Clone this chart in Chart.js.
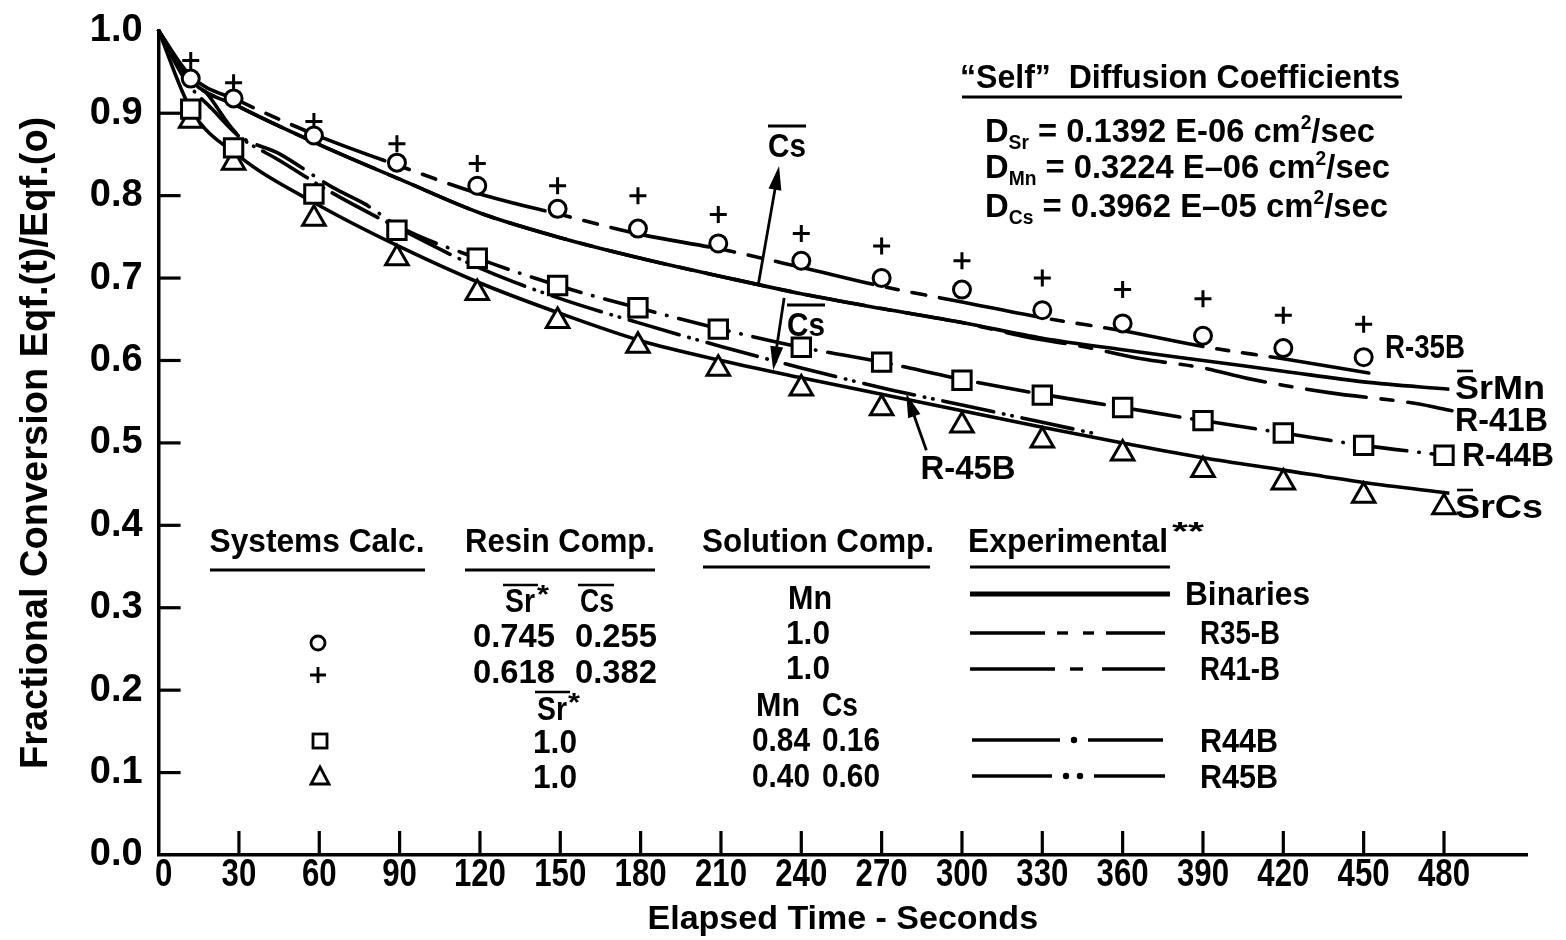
<!DOCTYPE html>
<html>
<head>
<meta charset="utf-8">
<script src="https://cdn.jsdelivr.net/npm/chart.js@4.4.0/dist/chart.umd.min.js"></script>
<style>
  html, body { margin: 0; padding: 0; background: #fff; }
  #wrap { width: 1566px; height: 940px; }
</style>
</head>
<body>
<div id="wrap"><canvas id="chart" width="1566" height="940"></canvas></div>
<script>
// axis ticks
const timeTicks = [0, 30, 60, 90, 120, 150, 180, 210, 240, 270, 300, 330, 360, 390, 420, 450, 480];
const fracTicks = [0, 0.1, 0.2, 0.3, 0.4, 0.5, 0.6, 0.7, 0.8, 0.9, 1.0];

// calculated systems (symbols)
const calcTime = [12, 28, 58, 89, 119, 149, 179, 209, 240, 270, 300, 330, 360, 390, 420, 450, 480];
const circleVals = [0.942, 0.918, 0.873, 0.840, 0.812, 0.784, 0.760, 0.742, 0.721, 0.700, 0.686, 0.661, 0.645, 0.630, 0.615, 0.604];
const plusVals = [0.964, 0.937, 0.890, 0.863, 0.839, 0.812, 0.800, 0.777, 0.754, 0.739, 0.721, 0.700, 0.686, 0.675, 0.655, 0.644];
const squareVals = [0.905, 0.858, 0.802, 0.758, 0.724, 0.691, 0.664, 0.638, 0.616, 0.598, 0.576, 0.558, 0.543, 0.527, 0.512, 0.497, 0.485];
const triangleVals = [0.891, 0.840, 0.772, 0.724, 0.682, 0.648, 0.618, 0.590, 0.566, 0.542, 0.521, 0.503, 0.487, 0.467, 0.452, 0.436, 0.422];

// experimental curves
const r35Time = [0, 12, 30, 60, 90, 120, 150, 180, 210, 240, 270, 300, 330, 360, 390, 420, 457];
const r35Vals = [1.0, 0.945, 0.915, 0.872, 0.836, 0.802, 0.777, 0.753, 0.735, 0.713, 0.690, 0.671, 0.652, 0.636, 0.617, 0.602, 0.582];

const srMnTime = [0, 12, 30, 60, 90, 120, 150, 180, 210, 240, 270, 300, 330, 360, 390, 420, 450, 482];
const srMnVals = [1.0, 0.940, 0.908, 0.862, 0.820, 0.779, 0.749, 0.724, 0.702, 0.681, 0.663, 0.646, 0.627, 0.613, 0.600, 0.587, 0.574, 0.565];

const r41Time = [0, 12, 30, 60, 90, 120, 150, 180, 210, 240, 270, 300, 325, 345, 367, 390, 407, 437, 469, 483];
const r41Vals = [1.0, 0.940, 0.908, 0.862, 0.820, 0.779, 0.749, 0.724, 0.702, 0.681, 0.663, 0.646, 0.628, 0.617, 0.602, 0.591, 0.578, 0.561, 0.548, 0.539];

const r44Time = [0, 10, 18, 29, 45, 65, 77, 90, 120, 150, 180, 210, 240, 270, 300, 330, 360, 390, 420, 450, 480];
const r44Vals = [1.0, 0.950, 0.924, 0.876, 0.851, 0.810, 0.790, 0.762, 0.723, 0.690, 0.663, 0.638, 0.616, 0.598, 0.577, 0.559, 0.543, 0.527, 0.512, 0.497, 0.485];

const r45Time = [0, 10, 20, 30, 45, 65, 90, 120, 150, 180, 210, 240, 270, 300, 330, 350];
const r45Vals = [1.0, 0.940, 0.905, 0.872, 0.843, 0.803, 0.760, 0.712, 0.675, 0.645, 0.617, 0.591, 0.567, 0.546, 0.525, 0.511];

const srCsTime = [0, 12, 30, 60, 90, 120, 150, 180, 210, 240, 270, 300, 330, 360, 390, 420, 450, 482];
const srCsVals = [1.0, 0.905, 0.848, 0.788, 0.738, 0.694, 0.657, 0.624, 0.600, 0.579, 0.559, 0.539, 0.519, 0.500, 0.482, 0.467, 0.452, 0.439];

const FONT = '"Liberation Sans", Arial, sans-serif';
const pts = (xs, ys) => ys.map((v, i) => ({ x: xs[i], y: v }));

function symbolSet(vals, style, radius) {
  return {
    data: pts(calcTime, vals), showLine: false, pointStyle: style, pointRadius: radius,
    pointBorderWidth: 3, pointBorderColor: '#000', pointBackgroundColor: '#fff', clip: false
  };
}
function curve(xs, ys, dash) {
  return {
    data: pts(xs, ys), showLine: true, pointRadius: 0, borderColor: '#000', borderWidth: 3.6,
    borderDash: dash, borderCapStyle: dash.length ? 'round' : 'butt', cubicInterpolationMode: 'monotone',
    fill: false, clip: false
  };
}

function font(size) { return 'bold ' + size + 'px ' + FONT; }
// draw a run of text pieces [text, size, dy] from x on baseline y;
// width > 0 squeezes the run to that width, width < 0 scales it by -width
function rich(ctx, parts, x, y, width, align) {
  ctx.save();
  let total = 0;
  parts.forEach(p => { ctx.font = font(p[1]); total += ctx.measureText(p[0]).width; });
  const k = width > 0 ? width / total : (width < 0 ? -width : 1);
  let start = x;
  if (align === 'center') start = x - total * k / 2;
  if (align === 'right') start = x - total * k;
  ctx.translate(start, y);
  ctx.scale(k, 1);
  ctx.textAlign = 'left';
  ctx.textBaseline = 'alphabetic';
  ctx.fillStyle = '#000';
  let cx = 0;
  parts.forEach(p => { ctx.font = font(p[1]); ctx.fillText(p[0], cx, p[2] || 0); cx += ctx.measureText(p[0]).width; });
  ctx.restore();
}
function txt(ctx, s, x, y, size, width, align) { rich(ctx, [[s, size]], x, y, width, align || 'left'); }
function hline(ctx, x1, x2, y, w) {
  ctx.save(); ctx.strokeStyle = '#000'; ctx.lineWidth = w || 2.5;
  ctx.beginPath(); ctx.moveTo(x1, y); ctx.lineTo(x2, y); ctx.stroke(); ctx.restore();
}
function arrow(ctx, x1, y1, x2, y2) {
  const a = Math.atan2(y2 - y1, x2 - x1), L = 24, W = 6.5;
  ctx.save(); ctx.strokeStyle = '#000'; ctx.fillStyle = '#000'; ctx.lineWidth = 2.8;
  ctx.beginPath(); ctx.moveTo(x1, y1); ctx.lineTo(x2 - Math.cos(a) * L * 0.8, y2 - Math.sin(a) * L * 0.8); ctx.stroke();
  ctx.beginPath(); ctx.moveTo(x2, y2);
  ctx.lineTo(x2 - Math.cos(a) * L - Math.sin(a) * W, y2 - Math.sin(a) * L + Math.cos(a) * W);
  ctx.lineTo(x2 - Math.cos(a) * L + Math.sin(a) * W, y2 - Math.sin(a) * L - Math.cos(a) * W);
  ctx.closePath(); ctx.fill(); ctx.restore();
}
function segs(ctx, y, pieces, dots) {
  ctx.save(); ctx.strokeStyle = '#000'; ctx.lineWidth = 3.4; ctx.lineCap = 'butt';
  pieces.forEach(p => { ctx.beginPath(); ctx.moveTo(p[0], y); ctx.lineTo(p[1], y); ctx.stroke(); });
  ctx.fillStyle = '#000';
  (dots || []).forEach(d => { ctx.beginPath(); ctx.arc(d, y, 3.2, 0, Math.PI * 2); ctx.fill(); });
  ctx.restore();
}

// tick marks point into the plot; time labels are condensed like the original lettering
const inwardTicks = {
  id: 'inwardTicks',
  afterDraw(chart) {
    const { ctx, scales: { x, y } } = chart;
    ctx.save(); ctx.strokeStyle = '#000'; ctx.lineWidth = 3.2;
    timeTicks.forEach(v => {
      const p = x.getPixelForValue(v);
      txt(ctx, String(v), p + (v === 0 ? 5 : 0), y.bottom + 31, 39, -0.8, 'center');
      if (v === 0) return;
      ctx.beginPath(); ctx.moveTo(p, y.bottom); ctx.lineTo(p, y.bottom - 24); ctx.stroke();
    });
    fracTicks.forEach(v => {
      if (v === 0 || v === 1) return;
      const p = y.getPixelForValue(v);
      ctx.beginPath(); ctx.moveTo(x.left, p); ctx.lineTo(x.left + 22, p); ctx.stroke();
    });
    ctx.restore();
  }
};

const notes = {
  id: 'notes',
  afterDraw(chart) {
    const { ctx, scales: { x, y } } = chart;
    const X = v => x.getPixelForValue(v), Y = v => y.getPixelForValue(v);

    // diffusion coefficients box
    txt(ctx, '\u201cSelf\u201d  Diffusion Coefficients', 1180, 88, 34, 440, 'center');
    hline(ctx, 962, 1402, 97, 3);
    rich(ctx, [['D', 34], ['Sr', 20, 7], [' = 0.1392 E-06 cm', 34], ['2', 20, -13], ['/sec', 34]], 985, 142, 390);
    rich(ctx, [['D', 34], ['Mn', 20, 7], [' = 0.3224 E\u201306 cm', 34], ['2', 20, -13], ['/sec', 34]], 985, 178, 405);
    rich(ctx, [['D', 34], ['Cs', 20, 7], [' = 0.3962 E\u201305 cm', 34], ['2', 20, -13], ['/sec', 34]], 985, 217, 403);

    // arrows and Cs labels (in data units)
    arrow(ctx, X(224), Y(0.693), X(231.7), Y(0.836));
    arrow(ctx, X(233.6), Y(0.676), X(229.5), Y(0.588));
    arrow(ctx, X(286.7), Y(0.491), X(279.2), Y(0.560));
    txt(ctx, 'Cs', 787, 157, 34, 38, 'center');
    hline(ctx, 768, 806, 126, 2.8);
    txt(ctx, 'Cs', 806, 336, 34, 38, 'center');
    hline(ctx, 787, 825, 305, 2.8);
    txt(ctx, 'R-45B', 968, 479, 34, 95, 'center');

    // curve labels
    txt(ctx, 'R-35B', 1385, 358, 34, 80);
    txt(ctx, 'SrMn', 1455, 399, 34, 90);
    hline(ctx, 1457, 1473, 371, 2.6);
    txt(ctx, 'R-41B', 1455, 431, 34, 93);
    txt(ctx, 'R-44B', 1462, 466, 34, 92);
    txt(ctx, 'SrCs', 1455, 518, 34, 88);
    hline(ctx, 1457, 1473, 490, 2.6);

    // table headers
    txt(ctx, 'Systems Calc.', 317, 552, 34, 215, 'center');
    hline(ctx, 210, 425, 570, 3.2);
    txt(ctx, 'Resin Comp.', 560, 552, 34, 190, 'center');
    hline(ctx, 465, 655, 570, 3.2);
    txt(ctx, 'Solution Comp.', 818, 552, 34, 232, 'center');
    hline(ctx, 703, 930, 567, 3.2);
    txt(ctx, 'Experimental', 968, 552, 34, 200);
    txt(ctx, '**', 1172, 540, 26, 32);
    hline(ctx, 970, 1170, 567, 3.2);

    // resin / solution sub-headers
    txt(ctx, 'Sr', 505, 612, 34, 30);
    txt(ctx, '*', 537, 603, 26, 12);
    txt(ctx, 'Cs', 580, 612, 34, 34);
    hline(ctx, 503, 538, 585, 2.6);
    hline(ctx, 578, 614, 585, 2.6);
    txt(ctx, 'Mn', 810, 609, 34, 44, 'center');
    hline(ctx, 970, 1170, 594, 5);
    txt(ctx, 'Binaries', 1185, 605, 34, 125);

    // table rows
    ctx.save(); ctx.strokeStyle = '#000'; ctx.lineWidth = 2.8;
    ctx.beginPath(); ctx.arc(318, 643, 7, 0, Math.PI * 2); ctx.stroke();
    ctx.beginPath(); ctx.moveTo(318, 667); ctx.lineTo(318, 683); ctx.moveTo(310, 675); ctx.lineTo(326, 675); ctx.stroke();
    ctx.strokeRect(313, 734, 14, 14);
    ctx.beginPath(); ctx.moveTo(320, 767); ctx.lineTo(329, 784); ctx.lineTo(311, 784); ctx.closePath(); ctx.stroke();
    ctx.restore();

    txt(ctx, '0.745', 473, 647, 34, 82);
    txt(ctx, '0.255', 657, 647, 34, 82, 'right');
    txt(ctx, '1.0', 808, 644, 34, 44, 'center');
    segs(ctx, 633, [[970, 1045], [1057, 1068], [1083, 1094], [1106, 1165]]);
    txt(ctx, 'R35-B', 1200, 644, 34, 80);

    txt(ctx, '0.618', 473, 683, 34, 82);
    txt(ctx, '0.382', 657, 683, 34, 82, 'right');
    txt(ctx, '1.0', 808, 679, 34, 44, 'center');
    segs(ctx, 669, [[970, 1055], [1070, 1083], [1102, 1165]]);
    txt(ctx, 'R41-B', 1200, 680, 34, 80);

    txt(ctx, 'Sr', 537, 720, 34, 30);
    txt(ctx, '*', 568, 711, 26, 12);
    hline(ctx, 535, 570, 692, 2.6);
    txt(ctx, 'Mn', 756, 716, 34, 44);
    txt(ctx, 'Cs', 822, 716, 34, 36);

    txt(ctx, '1.0', 555, 753, 34, 44, 'center');
    txt(ctx, '0.84', 752, 751, 34, 58);
    txt(ctx, '0.16', 822, 751, 34, 58);
    segs(ctx, 740, [[972, 1060], [1088, 1163]], [1074]);
    txt(ctx, 'R44B', 1200, 752, 34, 78);

    txt(ctx, '1.0', 555, 788, 34, 44, 'center');
    txt(ctx, '0.40', 752, 787, 34, 58);
    txt(ctx, '0.60', 822, 787, 34, 58);
    segs(ctx, 776, [[972, 1052], [1094, 1165]], [1066, 1080]);
    txt(ctx, 'R45B', 1200, 788, 34, 78);
  }
};

new Chart(document.getElementById('chart').getContext('2d'), {
  type: 'scatter',
  data: {
    datasets: [
      symbolSet(circleVals, 'circle', 8.5),
      symbolSet(plusVals, 'cross', 8.5),
      symbolSet(squareVals, 'rect', 13),
      symbolSet(triangleVals, 'triangle', 13),
      curve(srMnTime, srMnVals, []),
      curve(srCsTime, srCsVals, []),
      curve(r35Time, r35Vals, [100, 14, 12, 14, 14, 14]),
      curve(r41Time, r41Vals, [60, 15, 12, 15]),
      curve(r44Time, r44Vals, [52, 12, 0.5, 12]),
      curve(r45Time, r45Vals, [52, 10, 0.5, 8, 0.5, 10])
    ]
  },
  options: {
    responsive: false,
    animation: false,
    layout: { padding: { top: 30, right: 39, left: 12, bottom: 0 } },
    plugins: { legend: { display: false }, tooltip: { enabled: false } },
    scales: {
      x: {
        type: 'linear', min: 0, max: 511,
        afterBuildTicks: ax => { ax.ticks = timeTicks.map(v => ({ value: v })); },
        afterFit: ax => { ax.height = 85; },
        grid: { display: false },
        border: { display: true, color: '#000', width: 3.5 },
        ticks: { display: false },
        title: {
          display: true, text: 'Elapsed Time - Seconds', color: '#000',
          font: { family: FONT, weight: 'bold', size: 34 }, padding: { top: 0, bottom: 0 }
        }
      },
      y: {
        type: 'linear', min: 0, max: 1.0,
        afterBuildTicks: ax => { ax.ticks = fracTicks.map(v => ({ value: v })); },
        afterFit: ax => { ax.width = 146.6; },
        grid: { display: false },
        border: { display: true, color: '#000', width: 3.5 },
        ticks: {
          color: '#000', padding: 8, callback: v => v.toFixed(1),
          font: { family: FONT, weight: 'bold', size: 38 }
        },
        title: {
          display: true, text: 'Fractional Conversion Eqf.(t)/Eqf.(o)', color: '#000',
          font: { family: FONT, weight: 'bold', size: 38 }, padding: { top: 2, bottom: 0 }
        }
      }
    }
  },
  plugins: [inwardTicks, notes]
});
</script>
</body>
</html>
